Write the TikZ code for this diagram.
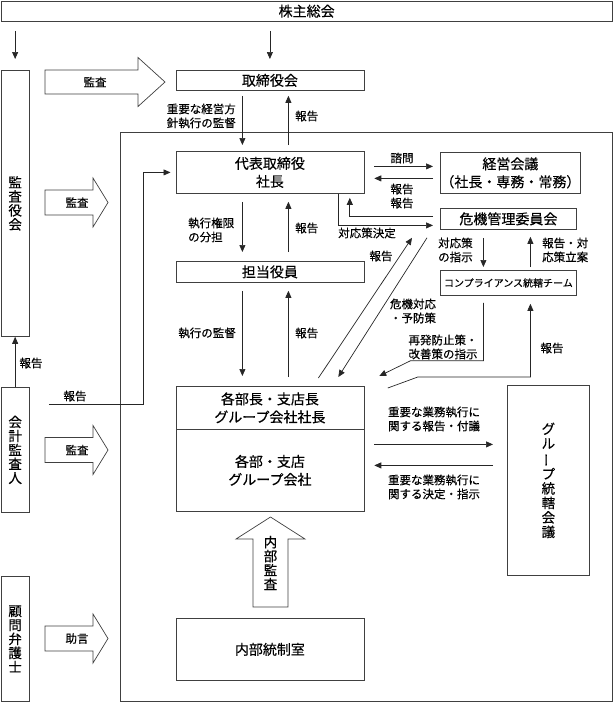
\documentclass[tikz,border=0pt]{standalone}
\usepackage{fontspec}
\setmainfont{Noto Sans CJK JP}[FakeBold=0.4]
\usetikzlibrary{arrows.meta, positioning}

\begin{document}
\begin{tikzpicture}[x=1pt, y=-1pt,
  box/.style={draw=black!75, line width=0.8pt, inner sep=0pt, anchor=north west, align=center, font=\fontsize{14}{18}\selectfont},
  vbox/.style={box, font=\fontsize{13.5}{14}\selectfont},
  lbl/.style={inner sep=0pt, align=center, font=\fontsize{11.5}{14}\selectfont},
  arr/.style={draw=black!85, line width=0.7pt, -{Triangle[length=7pt,width=6pt]}},
  barrow/.style={draw=black!75, line width=0.7pt, fill=white}]

  \useasboundingbox (0,0) rectangle (613,702);

  \node[box, minimum width=611.5pt, minimum height=20.5pt] (soukai) at (0.5,0.5) {株主総会};
  \node[vbox, minimum width=28.5pt, minimum height=266pt] (kansayaku) at (0.5,70) {監\\査\\役\\会};
  \node[vbox, minimum width=28.5pt, minimum height=125pt] (kaikei) at (0.5,387) {会\\計\\監\\査\\人};
  \node[vbox, minimum width=28.5pt, minimum height=125pt] (komon) at (0.5,576) {顧\\問\\弁\\護\\士};
  \node[box, minimum width=188pt, minimum height=20pt] (torishimari) at (175.5,70) {取締役会};

  \draw[draw=black!75, line width=0.8pt] (120,132) rectangle (612,701);

  \node[box, minimum width=188pt, minimum height=42pt] (daihyo) at (175.5,151) {代表取締役\\社長};
  \node[box, minimum width=188pt, minimum height=21pt] (tanto) at (175.5,261) {担当役員};
  \node[box, minimum width=188pt, minimum height=43pt] (kakubuchou) at (175.5,386) {各部長・支店長\\グループ会社社長};
  \node[box, minimum width=188pt, minimum height=82pt] (kakubu) at (175.5,429) {各部・支店\\グループ会社};
  \node[box, minimum width=188pt, minimum height=62pt] (naibu) at (175.5,618) {内部統制室};
  \node[box, minimum width=136pt, minimum height=41pt] (keiei) at (440,152) {経営会議\\（社長・専務・常務）};
  \node[box, minimum width=136pt, minimum height=21pt] (kiki) at (440,208) {危機管理委員会};
  \node[box, minimum width=136pt, minimum height=25pt, font=\fontsize{10}{12}\selectfont] (comp) at (440,270) {コンプライアンス統轄チーム};
  \node[vbox, minimum width=82pt, minimum height=190pt, font=\fontsize{13.5}{14.5}\selectfont] (group) at (507,385)
    {グ\\ル\\\rotatebox[origin=c]{90}{ー}\\プ\\統\\轄\\会\\議};

  % block arrows
  \draw[barrow] (45,70) -- (138,70) -- (138,57.5) -- (165,82) -- (138,106.5) -- (138,94) -- (45,94) -- cycle;
  \node[lbl] (kansa0) at (95,82) {監査};
  \foreach \y/\t [count=\i] in {202.5/監査, 450/監査, 638.5/助言} {
    \draw[barrow] (45,\y-12.5) -- (93,\y-12.5) -- (93,\y-24.5) -- (108,\y) -- (93,\y+24.5) -- (93,\y+12.5) -- (45,\y+12.5) -- cycle;
    \node[lbl] (kansa\i) at (77,\y) {\t};
  }
  \draw[barrow] (253,607) -- (253,539) -- (236,539) -- (270.5,517) -- (305,539) -- (288,539) -- (288,607) -- cycle;
  \node[lbl, font=\fontsize{13.5}{14}\selectfont] (naibukansa) at (270.5,563) {内\\部\\監\\査};

  % connectors
  \draw[arr, shorten <=9pt, shorten >=11pt] (soukai.south -| kansayaku.north) -- (kansayaku.north);
  \draw[arr, shorten <=9pt, shorten >=11pt] (soukai.south -| torishimari.north) -- (torishimari.north);
  \draw[arr, shorten <=5pt, shorten >=6pt] ([xshift=-27.5pt]torishimari.south) -- ([xshift=-27.5pt]daihyo.north);
  \draw[arr, shorten <=6pt, shorten >=5pt] ([xshift=18.5pt]daihyo.north) -- ([xshift=18.5pt]torishimari.south);
  \draw[arr, shorten <=8pt, shorten >=9pt] ([xshift=-27.5pt]daihyo.south) -- ([xshift=-27.5pt]tanto.north);
  \draw[arr, shorten <=9pt, shorten >=8pt] ([xshift=18.5pt]tanto.north) -- ([xshift=18.5pt]daihyo.south);
  \draw[arr, shorten <=8pt, shorten >=10pt] ([xshift=-27.5pt]tanto.south) -- ([xshift=-27.5pt]kakubuchou.north);
  \draw[arr, shorten <=9pt, shorten >=8pt] ([xshift=18.5pt]kakubuchou.north) -- ([xshift=18.5pt]tanto.south);
  \draw[arr] (kaikei.north) -- (kansayaku.south);
  \draw[arr, shorten >=5pt] ([shift={(19,-45.5)}]kaikei.east) -- ++(95,0) |- (daihyo.west);
  \draw[arr, shorten <=10pt, shorten >=7pt] ([shift={(0,-6)}]daihyo.east) -- ([shift={(0,-6.5)}]keiei.west);
  \draw[arr, shorten <=7pt, shorten >=10pt] ([shift={(0,5.5)}]keiei.west) -- ([shift={(0,6)}]daihyo.east);
  \draw[arr, shorten <=7pt, shorten >=4pt] ([shift={(0,-2.5)}]kiki.west) -| ([xshift=-14.5pt]daihyo.south east);
  \draw[arr, shorten >=7pt] ([xshift=-25.5pt]daihyo.south east) |- ([shift={(0,6.5)}]kiki.west);
  \draw[arr, shorten <=8pt, shorten >=3pt] ([xshift=-25pt]kiki.south) -- ([xshift=-25pt]comp.north);
  \draw[arr, shorten <=3pt, shorten >=7pt] ([xshift=22pt]comp.north) -- ([xshift=22pt]kiki.south);
  \draw[arr] ([shift={(48.5,-8)}]kakubuchou.north) -- ([shift={(-28,8)}]kiki.south west);
  \draw[arr] ([shift={(-13,8)}]kiki.south west) -- ([shift={(-26,-9)}]kakubuchou.north east);
  \draw[arr] ([shift={(-25,7)}]comp.south) -- ++(0,58) -- ++(-73,0) -- ([shift={(15,-10)}]kakubuchou.north east);
  \draw[arr] ([shift={(23.5,2)}]kakubuchou.north east) -- ++(30,-11) -| ([shift={(22,8)}]comp.south);
  \draw[arr, shorten <=10pt, shorten >=14pt] ([shift={(0,-26)}]kakubu.east) -- ([shift={(0,-36)}]group.west);
  \draw[arr, shorten <=14pt, shorten >=10pt] ([shift={(0,-15)}]group.west) -- ([shift={(0,-5)}]kakubu.east);

  % labels
  \node[lbl, anchor=east] (l1) at (236,116) {重要な経営方\\針執行の監督};
  \node[lbl, anchor=west] (l2) at (295,116) {報告};
  \node[lbl, anchor=west, align=left] (l3) at (188,230) {執行権限\\の分担};
  \node[lbl, anchor=west] (l4) at (295,228) {報告};
  \node[lbl, anchor=east] (l5) at (236,333) {執行の監督};
  \node[lbl, anchor=west] (l6) at (295,333) {報告};
  \node[lbl] (l7) at (31,363) {報告};
  \node[lbl] (l8) at (75,396) {報告};
  \node[lbl] (l9) at (402,158) {諮問};
  \node[lbl] (l10) at (402,189) {報告};
  \node[lbl] (l11) at (402,203) {報告};
  \node[lbl] (l12) at (367,233) {対応策決定};
  \node[lbl, anchor=west, align=left] (l13) at (438,250) {対応策\\の指示};
  \node[lbl, anchor=west, align=left] (l14) at (542,250) {報告・対\\応策立案};
  \node[lbl] (l15) at (381,256) {報告};
  \node[lbl] (l16) at (413,311) {危機対応\\・予防策};
  \node[lbl] (l17) at (443,347) {再発防止策・\\改善策の指示};
  \node[lbl] (l18) at (552,348) {報告};
  \node[lbl, align=left] (l19) at (434,419) {重要な業務執行に\\関する報告・付議};
  \node[lbl, align=left] (l20) at (434,487) {重要な業務執行に\\関する決定・指示};
\end{tikzpicture}
\end{document}
